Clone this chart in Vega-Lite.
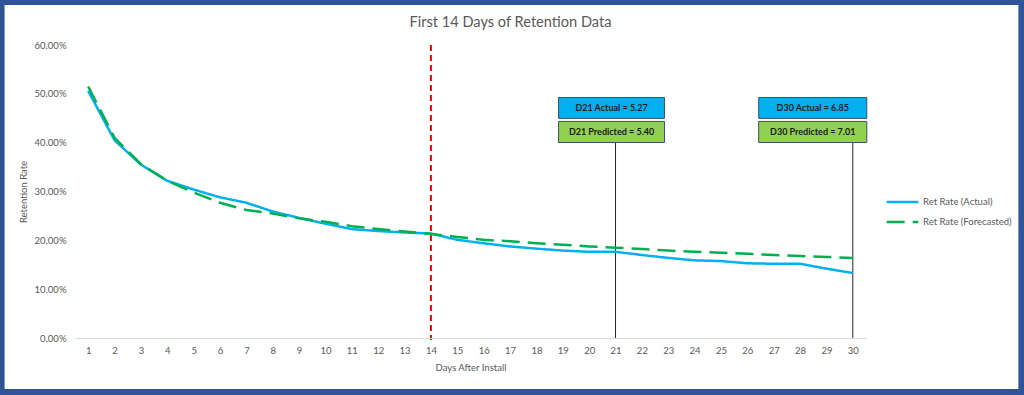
{
  "$schema": "https://vega.github.io/schema/vega-lite/v6.json",
  "width": 791,
  "height": 293,
  "autosize": {"type": "none"},
  "padding": {"left": 75, "top": 45, "right": 158, "bottom": 57},
  "background": "#2F5597",
  "config": {
    "font": "Lato",
    "view": {"stroke": null},
    "axis": {"labelColor": "#595959", "titleColor": "#595959", "labelFontSize": 9.5, "titleFontSize": 9.5, "titleFontWeight": "normal", "zindex": 1},
    "axisX": {"labelOverlap": false, "labelFlush": false, "labelBound": false, "grid": false, "ticks": false, "domainColor": "#D9D9D9", "labelPadding": 7, "titlePadding": 8},
    "axisY": {"domain": false, "ticks": false, "gridColor": "#D9D9D9", "labelPadding": 9, "titlePadding": 6},
    "legend": {"labelColor": "#595959", "labelFontSize": 9.5, "zindex": 1}
  },
  "title": {"text": "First 14 Days of Retention Data", "fontSize": 14.6, "fontWeight": "normal", "color": "#595959", "anchor": "middle", "dx": 40, "offset": -25, "zindex": 1},
  "datasets": {
    "retention": [
      {"day": 1, "rate": 0.506, "series": "Ret Rate (Actual)"},
      {"day": 2, "rate": 0.405, "series": "Ret Rate (Actual)"},
      {"day": 3, "rate": 0.355, "series": "Ret Rate (Actual)"},
      {"day": 4, "rate": 0.322, "series": "Ret Rate (Actual)"},
      {"day": 5, "rate": 0.304, "series": "Ret Rate (Actual)"},
      {"day": 6, "rate": 0.288, "series": "Ret Rate (Actual)"},
      {"day": 7, "rate": 0.277, "series": "Ret Rate (Actual)"},
      {"day": 8, "rate": 0.259, "series": "Ret Rate (Actual)"},
      {"day": 9, "rate": 0.246, "series": "Ret Rate (Actual)"},
      {"day": 10, "rate": 0.234, "series": "Ret Rate (Actual)"},
      {"day": 11, "rate": 0.223, "series": "Ret Rate (Actual)"},
      {"day": 12, "rate": 0.219, "series": "Ret Rate (Actual)"},
      {"day": 13, "rate": 0.216, "series": "Ret Rate (Actual)"},
      {"day": 14, "rate": 0.214, "series": "Ret Rate (Actual)"},
      {"day": 15, "rate": 0.201, "series": "Ret Rate (Actual)"},
      {"day": 16, "rate": 0.194, "series": "Ret Rate (Actual)"},
      {"day": 17, "rate": 0.1875, "series": "Ret Rate (Actual)"},
      {"day": 18, "rate": 0.183, "series": "Ret Rate (Actual)"},
      {"day": 19, "rate": 0.179, "series": "Ret Rate (Actual)"},
      {"day": 20, "rate": 0.1765, "series": "Ret Rate (Actual)"},
      {"day": 21, "rate": 0.1765, "series": "Ret Rate (Actual)"},
      {"day": 22, "rate": 0.170, "series": "Ret Rate (Actual)"},
      {"day": 23, "rate": 0.164, "series": "Ret Rate (Actual)"},
      {"day": 24, "rate": 0.159, "series": "Ret Rate (Actual)"},
      {"day": 25, "rate": 0.1575, "series": "Ret Rate (Actual)"},
      {"day": 26, "rate": 0.153, "series": "Ret Rate (Actual)"},
      {"day": 27, "rate": 0.152, "series": "Ret Rate (Actual)"},
      {"day": 28, "rate": 0.152, "series": "Ret Rate (Actual)"},
      {"day": 29, "rate": 0.142, "series": "Ret Rate (Actual)"},
      {"day": 30, "rate": 0.133, "series": "Ret Rate (Actual)"},
      {"day": 1, "rate": 0.515, "series": "Ret Rate (Forecasted)"},
      {"day": 2, "rate": 0.41, "series": "Ret Rate (Forecasted)"},
      {"day": 3, "rate": 0.356, "series": "Ret Rate (Forecasted)"},
      {"day": 4, "rate": 0.322, "series": "Ret Rate (Forecasted)"},
      {"day": 5, "rate": 0.298, "series": "Ret Rate (Forecasted)"},
      {"day": 6, "rate": 0.277, "series": "Ret Rate (Forecasted)"},
      {"day": 7, "rate": 0.262, "series": "Ret Rate (Forecasted)"},
      {"day": 8, "rate": 0.255, "series": "Ret Rate (Forecasted)"},
      {"day": 9, "rate": 0.245, "series": "Ret Rate (Forecasted)"},
      {"day": 10, "rate": 0.238, "series": "Ret Rate (Forecasted)"},
      {"day": 11, "rate": 0.229, "series": "Ret Rate (Forecasted)"},
      {"day": 12, "rate": 0.223, "series": "Ret Rate (Forecasted)"},
      {"day": 13, "rate": 0.218, "series": "Ret Rate (Forecasted)"},
      {"day": 14, "rate": 0.213, "series": "Ret Rate (Forecasted)"},
      {"day": 15, "rate": 0.207, "series": "Ret Rate (Forecasted)"},
      {"day": 16, "rate": 0.201, "series": "Ret Rate (Forecasted)"},
      {"day": 17, "rate": 0.198, "series": "Ret Rate (Forecasted)"},
      {"day": 18, "rate": 0.194, "series": "Ret Rate (Forecasted)"},
      {"day": 19, "rate": 0.191, "series": "Ret Rate (Forecasted)"},
      {"day": 20, "rate": 0.1875, "series": "Ret Rate (Forecasted)"},
      {"day": 21, "rate": 0.185, "series": "Ret Rate (Forecasted)"},
      {"day": 22, "rate": 0.182, "series": "Ret Rate (Forecasted)"},
      {"day": 23, "rate": 0.179, "series": "Ret Rate (Forecasted)"},
      {"day": 24, "rate": 0.1765, "series": "Ret Rate (Forecasted)"},
      {"day": 25, "rate": 0.1745, "series": "Ret Rate (Forecasted)"},
      {"day": 26, "rate": 0.1725, "series": "Ret Rate (Forecasted)"},
      {"day": 27, "rate": 0.170, "series": "Ret Rate (Forecasted)"},
      {"day": 28, "rate": 0.168, "series": "Ret Rate (Forecasted)"},
      {"day": 29, "rate": 0.166, "series": "Ret Rate (Forecasted)"},
      {"day": 30, "rate": 0.164, "series": "Ret Rate (Forecasted)"}
    ],
    "callouts": [
      {"day": 21, "label": "D21 Actual = 5.27", "kind": "Actual", "left": 18.84, "right": 22.86, "top": 0.4925, "bottom": 0.4497, "mid": 0.4711, "center": 20.85},
      {"day": 21, "label": "D21 Predicted = 5.40", "kind": "Predicted", "left": 18.84, "right": 22.86, "top": 0.4435, "bottom": 0.4004, "mid": 0.422, "center": 20.85},
      {"day": 30, "label": "D30 Actual = 6.85", "kind": "Actual", "left": 26.43, "right": 30.53, "top": 0.4925, "bottom": 0.4497, "mid": 0.4711, "center": 28.48},
      {"day": 30, "label": "D30 Predicted = 7.01", "kind": "Predicted", "left": 26.43, "right": 30.53, "top": 0.4435, "bottom": 0.4004, "mid": 0.422, "center": 28.48}
    ]
  },
  "encoding": {
    "x": {"type": "quantitative", "scale": {"domain": [0.5, 30.5], "nice": false, "zero": false},
          "title": "Days After Install",
          "axis": {"zindex": 1, "values": [1,2,3,4,5,6,7,8,9,10,11,12,13,14,15,16,17,18,19,20,21,22,23,24,25,26,27,28,29,30], "tickCount": 30, "format": "d", "labelOverlap": false}},
    "y": {"type": "quantitative", "scale": {"domain": [0, 0.6], "nice": false},
          "title": "Retention Rate",
          "axis": {"zindex": 1, "values": [0, 0.1, 0.2, 0.3, 0.4, 0.5, 0.6], "format": ".2%"}}
  },
  "layer": [
    {
      "data": {"values": [{}]},
      "mark": {"type": "rect", "fill": "white", "zindex": 0, "clip": false},
      "encoding": {
        "x": {"datum": -2.17, "type": "quantitative"},
        "x2": {"datum": 36.28},
        "y": {"datum": 0.682, "type": "quantitative"},
        "y2": {"datum": -0.1044}
      }
    },
    {
      "data": {"values": [{"day": 14}]},
      "mark": {"type": "rule", "color": "#FF0000", "strokeWidth": 2, "strokeDash": [6, 4], "zindex": 2},
      "encoding": {
        "x": {"field": "day", "type": "quantitative"},
        "y": {"datum": 0.6, "type": "quantitative"},
        "y2": {"datum": -0.004}
      }
    },
    {
      "data": {"name": "callouts"},
      "transform": [{"filter": "datum.kind === 'Predicted'"}],
      "mark": {"type": "rule", "color": "#262626", "strokeWidth": 1, "zindex": 2},
      "encoding": {
        "x": {"field": "day", "type": "quantitative"},
        "y": {"field": "bottom", "type": "quantitative"},
        "y2": {"datum": 0}
      }
    },
    {
      "data": {"name": "retention"},
      "mark": {"type": "line", "strokeWidth": 2.5, "zindex": 2},
      "encoding": {
        "x": {"field": "day", "type": "quantitative"},
        "y": {"field": "rate", "type": "quantitative"},
        "color": {"field": "series", "type": "nominal", "scale": {"domain": ["Ret Rate (Actual)", "Ret Rate (Forecasted)"], "range": ["#00B0F0", "#00B050"]},
                  "legend": {"title": null, "orient": "none", "legendX": 810, "legendY": 148, "symbolType": "stroke", "symbolSize": 1000, "symbolStrokeWidth": 2.5, "clipHeight": 18, "labelOffset": 3}},
        "strokeDash": {"field": "series", "type": "nominal", "scale": {"domain": ["Ret Rate (Actual)", "Ret Rate (Forecasted)"], "range": [[1, 0], [18, 8]]},
                  "legend": {"title": null, "orient": "none", "legendX": 810, "legendY": 148, "symbolType": "stroke", "symbolSize": 1000, "symbolStrokeWidth": 2.5, "clipHeight": 18, "labelOffset": 3}}
      }
    },
    {
      "data": {"name": "callouts"},
      "mark": {"type": "rect", "stroke": "#3F4F66", "strokeWidth": 1, "zindex": 2},
      "encoding": {
        "x": {"field": "left", "type": "quantitative"},
        "x2": {"field": "right"},
        "y": {"field": "top", "type": "quantitative"},
        "y2": {"field": "bottom"},
        "fill": {"field": "kind", "type": "nominal", "scale": {"domain": ["Actual", "Predicted"], "range": ["#00B0F0", "#92D050"]}, "legend": null}
      }
    },
    {
      "data": {"name": "callouts"},
      "mark": {"type": "text", "fontSize": 9, "fontWeight": "bold", "color": "#1A1A1A", "align": "center", "baseline": "middle", "zindex": 3},
      "encoding": {
        "x": {"field": "center", "type": "quantitative"},
        "y": {"field": "mid", "type": "quantitative"},
        "text": {"field": "label"}
      }
    }
  ]
}
